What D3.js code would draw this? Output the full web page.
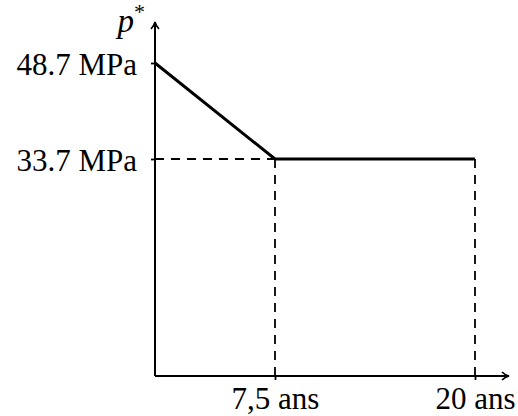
<!DOCTYPE html>
<html><head><meta charset="utf-8">
<script src="https://cdn.jsdelivr.net/npm/d3@7"></script>
<style>body{margin:0;background:#fff}svg{display:block}</style>
</head><body>
<script>
const years = [0, 7.5, 20];
const pressure = [48.7, 33.7, 33.7];
const xTickValues = [7.5, 20];
const xTickLabels = ["7,5 ans", "20 ans"];
const yTickValues = [48.7, 33.7];
const yTickLabels = ["48.7 MPa", "33.7 MPa"];
const yTitle = "p";

const W = 518, H = 416;
const ox = 155, oy = 376;
const svg = d3.select("body").append("svg").attr("width", W).attr("height", H);
const x = d3.scaleLinear().domain([0, 20]).range([ox, 475]);
const y = d3.scaleLinear().domain([33.7, 48.7]).range([159, 63]);
const font = "'Liberation Serif', 'Times New Roman', serif";
const fs = 31;

// dashed guides
const g = svg.append("g").attr("stroke", "#000").attr("stroke-width", 1.8).attr("stroke-dasharray", "9,7").attr("fill", "none");
g.append("line").attr("x1", x(0)).attr("x2", x(7.5)).attr("y1", y(33.7)).attr("y2", y(33.7));
xTickValues.forEach(v => {
  const i = years.indexOf(v);
  g.append("line").attr("x1", x(v)).attr("x2", x(v)).attr("y1", y(pressure[i])).attr("y2", oy);
});

// axes lines with arrows
svg.append("line").attr("x1", ox).attr("x2", ox).attr("y1", oy).attr("y2", 23).attr("stroke", "#000").attr("stroke-width", 2);
svg.append("line").attr("x1", ox).attr("x2", 507).attr("y1", oy).attr("y2", oy).attr("stroke", "#000").attr("stroke-width", 2);
svg.append("path").attr("d", `M${ox-4},29 Q${ox-1},26 ${ox},22 Q${ox+1},26 ${ox+4},29`).attr("fill", "none").attr("stroke", "#000").attr("stroke-width", 1.7);
svg.append("path").attr("d", `M502,${oy-4} Q505,${oy-1} 509,${oy} Q505,${oy+1} 502,${oy+4}`).attr("fill", "none").attr("stroke", "#000").attr("stroke-width", 1.7);

// y axis ticks and labels
const ya = svg.append("g").attr("transform", `translate(${ox},0)`)
  .call(d3.axisLeft(y).tickValues(yTickValues).tickFormat((d, i) => yTickLabels[i]).tickSize(4).tickPadding(14));
ya.select(".domain").remove();
ya.selectAll("line").attr("stroke-width", 1.8);
ya.selectAll("text").attr("font-family", font).attr("font-size", fs).attr("fill", "#000").attr("dy", "0.36em");

// x axis ticks and labels
const xa = svg.append("g").attr("transform", `translate(0,${oy})`)
  .call(d3.axisBottom(x).tickValues(xTickValues).tickFormat((d, i) => xTickLabels[i]).tickSize(4).tickPadding(10));
xa.select(".domain").remove();
xa.selectAll("line").attr("stroke-width", 1.8);
xa.selectAll("text").attr("font-family", font).attr("font-size", fs).attr("fill", "#000").attr("y", 33).attr("dy", 0);

// data line
svg.append("path").datum(years.map((v, i) => [v, pressure[i]]))
  .attr("d", d3.line().x(d => x(d[0])).y(d => y(d[1])))
  .attr("fill", "none").attr("stroke", "#000").attr("stroke-width", 3).attr("stroke-linejoin", "round");

// y title
const t = svg.append("text").attr("x", 145).attr("y", 32).attr("text-anchor", "end")
  .attr("font-family", font).attr("font-size", 33).attr("fill", "#000");
t.append("tspan").attr("font-style", "italic").text(yTitle);
t.append("tspan").attr("font-size", 22).attr("dy", -13).text("*");
</script>
</body></html>
